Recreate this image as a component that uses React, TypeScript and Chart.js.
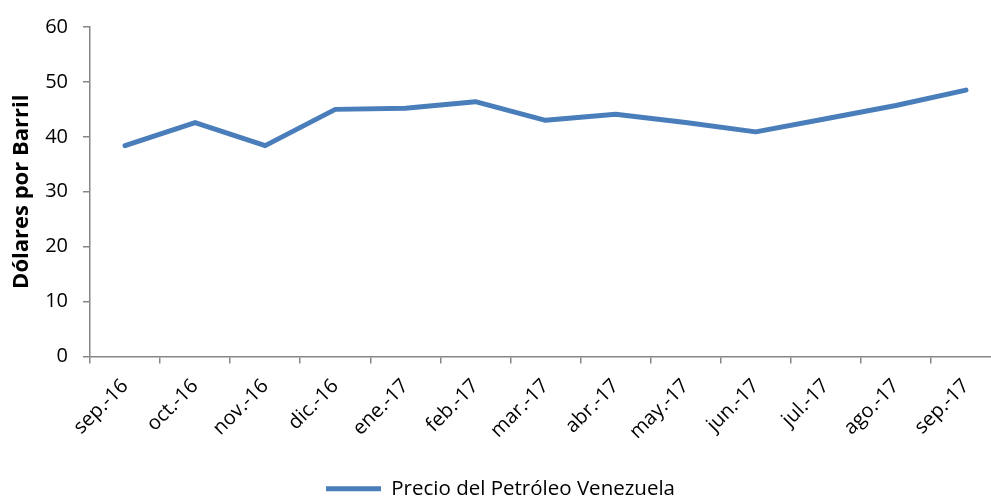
import React, { useEffect, useRef } from "react";
import { Chart, registerables } from "chart.js";

Chart.register(...registerables);

const categories = [
  "sep.-16", "oct.-16", "nov.-16", "dic.-16", "ene.-17", "feb.-17", "mar.-17",
  "abr.-17", "may.-17", "jun.-17", "jul.-17", "ago.-17", "sep.-17",
];
const precios = [38.4, 42.6, 38.4, 45.0, 45.2, 46.4, 43.0, 44.1, 42.6, 40.9, 43.3, 45.7, 48.5];
const seriesName = "Precio del Petróleo Venezuela";
const yTitle = "Dólares por Barril";

const FONT = "Open Sans";
const AXIS = "#868686";
const LINE = "#4a7ebb";

export default function App() {
  const ref = useRef<HTMLCanvasElement | null>(null);
  useEffect(() => {
    if (!ref.current) return;
    const chart = new Chart(ref.current, {
      type: "line",
      data: {
        labels: categories,
        datasets: [
          {
            label: seriesName,
            data: precios,
            borderColor: LINE,
            backgroundColor: LINE,
            borderWidth: 5,
            borderCapStyle: "round",
            borderJoinStyle: "round",
            pointRadius: 0,
            tension: 0,
          },
        ],
      },
      options: {
        responsive: false,
        animation: false,
        layout: { padding: { top: 23, left: 0, right: 0, bottom: 0 } },
        plugins: {
          tooltip: { enabled: false },
          legend: {
            position: "bottom",
            labels: {
              usePointStyle: true,
              pointStyle: "line",
              pointStyleWidth: 55,
              color: "#000",
              font: { family: FONT, size: 20.5 },
              padding: 10,
            },
          },
        },
        scales: {
          x: {
            offset: true,
            grid: { offset: true, drawOnChartArea: false, drawTicks: true, tickLength: 7, color: AXIS, lineWidth: 1.5 },
            border: { display: true, color: AXIS, width: 1.5 },
            ticks: {
              color: "#000",
              font: { family: FONT, size: 20 },
              minRotation: 45,
              maxRotation: 45,
              autoSkip: false,
              padding: 11,
            },
            afterFit: (s: any) => { s.height = 112; },
          },
          y: {
            min: 0,
            max: 60,
            ticks: { stepSize: 10, color: "#000", font: { family: FONT, size: 20 }, padding: 15 },
            grid: { drawOnChartArea: false, drawTicks: true, tickLength: 7, color: AXIS, lineWidth: 1.5 },
            border: { display: true, color: AXIS, width: 1.5 },
            title: {
              display: true,
              text: yTitle,
              color: "#000",
              font: { family: FONT, size: 22, weight: "bold" },
              padding: { top: 9, bottom: 0 },
            },
            afterFit: (s: any) => { s.width = 90; },
          },
        },
      },
    });
    return () => chart.destroy();
  }, []);
  return (
    <div style={{ position: "fixed", left: 0, top: 0, width: 991, height: 496, overflow: "hidden", background: "#fff" }}>
      <canvas ref={ref} width={1001} height={509} style={{ display: "block", width: 1001, height: 509 }} />
    </div>
  );
}
